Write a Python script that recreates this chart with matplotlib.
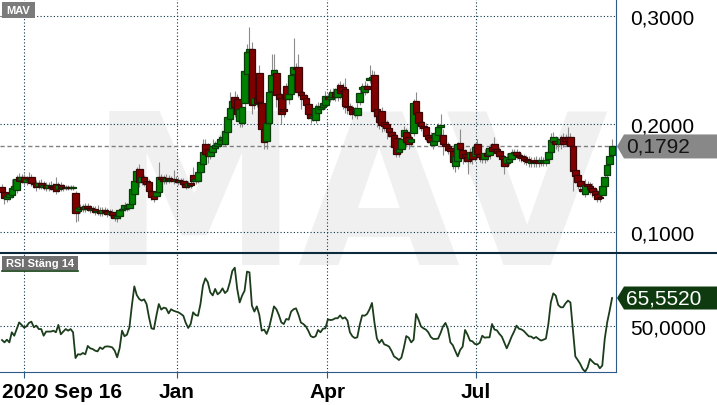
import numpy as np
import matplotlib
matplotlib.use("Agg")
import matplotlib.pyplot as plt
from matplotlib.patches import Polygon, Rectangle
from matplotlib.lines import Line2D
from matplotlib.transforms import IdentityTransform
from matplotlib.ticker import FuncFormatter

# ---------------- data (daily, from 2020 Sep 16), prices in units of 0.0001 ----------------
opens = [
    1416,1370,1305,1323,1342,1397,1388,1509,1481,1509, 1462,1481,1509,1453,1453,1425,1453,1416,1435,1407,
    1425,1416,1444,1397,1435,1407,1416,1407,1416,1407, 1361,1194,1212,1231,1212,1240,1222,1203,1212,1185,
    1194,1175,1203,1194,1166,1185,1157,1129,1148,1203, 1212,1222,1222,1259,1351,1472,1583,1462,1509,1472,
    1462,1379,1333,1333,1370,1509,1490,1472,1500,1481, 1490,1472,1481,1462,1472,1444,1425,1453,1527,1472,
    1472,1555,1629,1814,1768,1703,1740,1777,1796,1814, 1851,1814,1925,2046,2148,2250,2231,2027,2009,2194,
    2462,2666,2694,2185,2240,2472,2194,1944,1842,2009, 2305,2462,2472,2277,2240,2138,2351,2231,2277,2462,
    2518,2527,2296,2268,2240,2185,2092,2055,2037,2101, 2138,2157,2175,2250,2231,2250,2296,2250,2361,2342,
    2324,2166,2157,2138,2120,2083,2203,2324,2296,2351, 2407,2416,2453,2138,2074,2120,2018,2000,1962,1925,
    1898,1870,1740,1768,1888,1925,1879,1833,1916,2212, 2111,2018,1981,1972,1898,1879,1805,1842,1898,1972,
    1898,1814,1796,1777,1750,1611,1657,1824,1759,1722, 1694,1675,1740,1703,1814,1722,1694,1675,1731,1712,
    1787,1814,1768,1750,1703,1675,1638,1648,1675,1731, 1740,1712,1703,1694,1675,1666,1638,1657,1666,1657,
    1648,1648,1638,1675,1740,1833,1842,1824,1814,1879, 1870,1879,1879,1796,1574,1527,1472,1397,1351,1444,
    1425,1407,1379,1351,1323,1342,1425,1527,1629,1712,
]
closes = [
    1370,1314,1333,1351,1407,1425,1490,1472,1509,1462, 1490,1490,1453,1444,1416,1453,1425,1435,1407,1435,
    1416,1397,1379,1435,1407,1416,1407,1416,1407,1416, 1175,1222,1231,1212,1240,1222,1203,1212,1185,1194,
    1175,1203,1185,1166,1185,1157,1129,1148,1203,1212, 1249,1240,1259,1397,1472,1564,1462,1509,1462,1444,
    1379,1323,1305,1370,1509,1490,1472,1500,1481,1490, 1472,1481,1462,1472,1444,1416,1453,1435,1472,1490,
    1555,1648,1740,1722,1703,1750,1796,1805,1824,1861, 1879,1935,2064,2148,2212,2157,2092,2138,2157,2490,
    2666,2694,2175,2240,2194,2203,1953,1833,2009,2296, 2453,2500,2268,2231,2092,2120,2231,2277,2453,2527,
    2509,2296,2268,2231,2175,2092,2055,2074,2148,2166, 2157,2194,2259,2231,2250,2296,2250,2324,2287,2305,
    2166,2157,2129,2092,2101,2148,2287,2342,2351,2324, 2425,2435,2120,2074,2018,1990,1981,1962,1925,1888,
    1787,1722,1768,1861,1944,1833,1814,1861,2194,2092, 2009,1981,1962,1888,1861,1833,1842,1916,1972,1990,
    1814,1796,1759,1750,1648,1703,1814,1768,1685,1685, 1657,1740,1675,1787,1722,1694,1675,1731,1703,1777,
    1750,1768,1731,1703,1675,1611,1694,1675,1731,1740, 1712,1694,1685,1666,1657,1648,1657,1648,1648,1638,
    1666,1657,1666,1740,1851,1879,1814,1842,1861,1814, 1842,1861,1796,1564,1518,1462,1425,1379,1435,1425,
    1397,1370,1342,1305,1314,1425,1509,1620,1703,1792,
]
highs = [
    1444,1397,1351,1379,1490,1462,1527,1546,1537,1537, 1518,1555,1537,1481,1481,1481,1490,1472,1462,1462,
    1472,1453,1509,1462,1462,1444,1435,1435,1435,1435, 1379,1240,1259,1259,1268,1268,1249,1240,1240,1249,
    1231,1231,1231,1222,1212,1212,1185,1175,1222,1240, 1277,1268,1286,1435,1509,1601,1629,1537,1527,1500,
    1490,1407,1361,1416,1648,1537,1527,1537,1527,1518, 1574,1518,1509,1500,1500,1481,1472,1481,1601,1518,
    1583,1675,1861,1861,1824,1824,1861,1842,1861,1898, 1916,1972,2101,2296,2250,2305,2277,2175,2194,2527,
    2741,2898,2759,2277,2277,2546,2231,1972,2046,2342, 2648,2648,2509,2324,2287,2185,2379,2324,2490,2796,
    2564,2648,2342,2305,2277,2231,2138,2111,2185,2203, 2194,2231,2305,2287,2324,2333,2333,2379,2398,2379,
    2425,2268,2194,2175,2157,2194,2324,2379,2398,2379, 2546,2500,2490,2185,2120,2157,2055,2037,2000,1962,
    1935,1907,1814,1898,1981,1962,1925,1898,2231,2296, 2157,2064,2027,2009,1944,1925,1879,1953,2009,2092,
    1953,1861,1833,1814,1787,1712,1833,1953,1805,1768, 1731,1777,1777,1824,1861,1768,1731,1768,1768,1814,
    1824,1879,1805,1787,1740,1712,1731,1712,1768,1768, 1768,1750,1731,1722,1712,1703,1694,1694,1703,1694,
    1703,1694,1703,1777,1916,1925,1888,1879,1898,1916, 1907,1972,1916,1833,1611,1564,1509,1462,1490,1472,
    1462,1453,1416,1397,1361,1462,1546,1657,1740,1861,
]
lows = [
    1333,1259,1277,1296,1314,1370,1361,1444,1453,1435, 1435,1453,1425,1407,1379,1397,1397,1388,1379,1379,
    1388,1370,1351,1370,1379,1379,1388,1388,1388,1388, 1092,1101,1175,1185,1185,1194,1175,1175,1157,1157,
    1148,1148,1157,1138,1138,1129,1101,1092,1120,1175, 1194,1194,1203,1231,1305,1435,1416,1435,1425,1416,
    1351,1296,1277,1314,1361,1462,1444,1444,1453,1462, 1444,1453,1435,1435,1416,1397,1407,1407,1444,1444,
    1453,1527,1601,1648,1638,1675,1703,1750,1768,1787, 1824,1796,1898,2018,2120,2064,2046,1972,1972,2157,
    2416,2620,2092,2138,2157,2138,1898,1768,1768,1981, 2277,2435,2157,2185,2000,2064,2138,2185,2250,2435,
    2472,2250,2138,2194,2138,2046,2009,2027,2009,2074, 2111,2129,2138,2194,2203,2222,2212,2212,2231,2138,
    2101,2092,2083,2046,2064,2046,2175,2296,2268,2287, 2379,2379,2064,1972,1953,1925,1935,1861,1879,1842,
    1750,1694,1694,1731,1861,1787,1768,1796,1888,2046, 1953,1935,1907,1842,1824,1796,1768,1805,1861,1944,
    1712,1750,1722,1694,1583,1555,1583,1722,1629,1648, 1537,1638,1629,1657,1675,1648,1638,1638,1657,1675,
    1712,1731,1694,1675,1629,1537,1601,1620,1648,1675, 1675,1657,1648,1629,1620,1601,1601,1601,1601,1601,
    1611,1611,1611,1638,1712,1805,1768,1750,1768,1787, 1796,1814,1750,1379,1453,1397,1370,1342,1323,1379,
    1351,1323,1305,1277,1277,1314,1397,1490,1601,1629,
]
rsi14 = [
    42.2,40.9,42.4,40.9,46.5,44.6,48.3,52.0,50.6,49.1, 49.8,51.7,52.4,49.3,50.2,48.3,48.3,44.6,46.9,46.9,
    46.9,47.4,46.5,50.6,45.4,46.9,48.3,47.4,48.3,46.5, 32.2,34.3,34.1,35.0,34.3,38.9,37.6,37.2,36.3,35.9,
    38.1,37.2,38.5,38.7,38.5,38.1,36.3,32.6,37.6,47.4, 44.3,45.2,49.3,61.3,72.0,67.2,65.0,64.1,64.8,62.2,
    54.8,48.7,48.3,55.7,62.2,59.1,60.2,59.8,57.0,59.3, 58.5,58.0,57.6,56.7,55.7,51.7,48.9,51.1,57.6,56.1,
    55.7,62.2,72.4,76.5,74.3,68.7,67.0,70.6,67.6,68.7, 70.9,68.3,69.6,74.3,80.6,82.4,70.6,63.1,66.9,69.6,
    80.2,79.8,61.3,58.0,60.9,56.3,47.4,48.0,45.6,49.1, 54.8,60.9,59.3,56.1,52.0,51.1,53.9,53.5,58.0,59.3,
    59.8,56.3,51.9,51.1,49.8,47.4,44.4,43.7,44.3,47.8, 46.5,48.5,48.7,53.7,53.3,53.5,54.3,54.3,55.9,54.1,
    54.8,53.0,46.5,44.3,43.3,43.7,50.6,55.9,55.7,56.7, 59.3,62.8,52.0,43.1,40.6,42.4,39.8,39.3,38.5,36.1,
    33.1,32.2,31.1,32.4,37.8,44.4,43.5,40.9,42.4,56.7, 53.5,49.8,48.7,48.0,46.5,43.9,42.8,42.8,43.0,46.1,
    49.8,51.7,48.3,40.9,39.3,36.1,33.1,36.7,38.5,47.8, 45.2,41.9,41.5,40.0,39.8,40.7,44.6,43.5,43.7,43.7,
    51.1,48.0,47.6,45.6,44.1,40.9,37.6,40.7,44.1,46.9, 50.2,48.5,48.1,47.2,45.7,44.3,44.1,43.1,43.9,42.8,
    41.9,42.4,43.0,51.1,63.1,68.1,66.9,61.7,60.4,60.4, 62.6,64.1,63.1,48.3,33.1,31.1,28.9,26.1,24.6,27.0,
    31.7,30.2,28.9,28.7,26.5,28.0,42.8,52.0,58.5,65.552,
]
price_scale = 10000.0
price_ticks = [0.1, 0.2, 0.3]
rsi_ticks = [50]
date_tick_pos = [9, 71.4, 132.7, 193.5]      # trading-day index of quarter starts
date_tick_labels = ["", "Jan", "Apr", "Jul"]
start_label = "2020 Sep 16"
ticker = "MAV"
rsi_label = "RSI Stäng 14"

# ---------------- figure ----------------
W, H = 717, 406
plt.rcParams['font.family'] = ['Liberation Sans', 'DejaVu Sans']
fig = plt.figure(figsize=(W / 100, H / 100), dpi=100)
fig.patch.set_facecolor('white')

def fx(px):
    return px / W

def fy(py):
    return 1 - py / H

SPLIT, BOTTOM, RIGHT = 254, 373, 616
axp = fig.add_axes([0, fy(SPLIT), fx(RIGHT), SPLIT / H])
axr = fig.add_axes([0, fy(BOTTOM), fx(RIGHT), (BOTTOM - SPLIT) / H])
for a in (axp, axr):
    a.set_facecolor('none')

# watermark
fig.text(fx(349), fy(265), ticker, fontsize=151, fontweight='bold', color='#f0f0f0',
         family='DejaVu Sans', ha='center', va='baseline', zorder=-5)

o = np.array(opens) / price_scale
c = np.array(closes) / price_scale
h = np.array(highs) / price_scale
l = np.array(lows) / price_scale
idx = np.arange(len(c))
up = c >= o
last_price = c[-1]
last_rsi = rsi14[-1]

XL = (-0.82, 250.6)
GRID = '#0b3347'
SPINE = '#2d5b88'

# price panel
for v in price_ticks:
    axp.axhline(v, color=GRID, lw=0.8, ls=(0, (1, 2)), zorder=0.5)
for t in date_tick_pos:
    axp.axvline(t, color=GRID, lw=0.8, ls=(0, (1, 2)), zorder=0.5)
axp.axhline(last_price, color='#808080', lw=1.0, ls=(0, (3, 2)), zorder=0.6)
axp.vlines(idx, l, h, color='#8c8c8c', lw=0.8, zorder=1)
body_bottom = np.minimum(o, c)
body_h = np.maximum(np.abs(c - o), 0.0004)
axp.bar(idx, body_h, bottom=body_bottom, width=2.7,
        color=np.where(up, '#008000', '#800000'),
        edgecolor=np.where(up, '#0b3b0b', '#3b0505'), linewidth=0.9, zorder=2)
axp.set_xlim(*XL)
axp.set_ylim(0.08056, 0.3157)
fmt = FuncFormatter(lambda v, _: f"{v:.4f}".replace('.', ','))
axp.yaxis.tick_right()
axp.set_yticks(price_ticks)
axp.yaxis.set_major_formatter(fmt)
axp.tick_params(axis='y', length=0, pad=10, labelsize=15, labelcolor='black')
axp.tick_params(axis='x', bottom=False, labelbottom=False)
for s in ('left', 'top', 'bottom'):
    axp.spines[s].set_visible(False)
axp.spines['right'].set_color(SPINE)
axp.spines['right'].set_linewidth(0.8)

# RSI panel
axr.axhline(50, color=GRID, lw=0.8, ls=(0, (1, 2)), zorder=0.5)
for t in date_tick_pos:
    axr.axvline(t, color=GRID, lw=0.8, ls=(0, (1, 2)), zorder=0.5)
axr.plot(idx, rsi14, color='#1c3d1c', lw=1.3, zorder=2)
axr.set_xlim(*XL)
axr.set_ylim(24.44, 90.56)
axr.yaxis.tick_right()
axr.set_yticks(rsi_ticks)
axr.yaxis.set_major_formatter(fmt)
axr.tick_params(axis='y', length=0, pad=10, labelsize=15, labelcolor='black')
axr.set_xticks(date_tick_pos)
axr.set_xticklabels(date_tick_labels, fontweight='bold')
axr.tick_params(axis='x', length=4.3, width=0.8, color=SPINE, pad=3, labelsize=15)
for s in ('left', 'top'):
    axr.spines[s].set_visible(False)
for s in ('right', 'bottom'):
    axr.spines[s].set_color(SPINE)
    axr.spines[s].set_linewidth(0.8)

fig.text(fx(2), fy(398), start_label, fontsize=15, fontweight='bold', ha='left', va='baseline')

# separator line between panels
fig.add_artist(Line2D([0, 1], [fy(SPLIT), fy(SPLIT)], transform=fig.transFigure,
                      color='#0d2a3a', lw=1.5, zorder=5))

# value boxes on the right
def value_box(ax, val, text, face, tcolor, half):
    yd = ax.transData.transform((0, val))[1]
    verts = [(617, yd), (624, yd + half), (W, yd + half), (W, yd - half), (624, yd - half)]
    fig.add_artist(Polygon(verts, closed=True, transform=IdentityTransform(),
                           facecolor=face, edgecolor='none', zorder=6))
    fig.text(fx(626), yd / H, text, fontsize=15, color=tcolor, ha='left', va='center', zorder=7)

value_box(axp, last_price, fmt(last_price, None), '#888888', '#141414', 12)
value_box(axr, last_rsi, fmt(last_rsi, None), '#0f3a0f', 'white', 11.5)

# top-left labels
fig.add_artist(Rectangle((fx(2), fy(19)), fx(33), 16 / H, transform=fig.transFigure,
                         facecolor='#7b7b7b', edgecolor='none', zorder=6))
fig.text(fx(18.5), fy(11), ticker, fontsize=8, fontweight='bold', color='white',
         ha='center', va='center', zorder=7)
fig.add_artist(Rectangle((fx(2), fy(271)), fx(76), 14 / H, transform=fig.transFigure,
                         facecolor='#6f6f6f', edgecolor='none', zorder=6))
fig.add_artist(Line2D([fx(2), fx(78)], [fy(272), fy(272)], transform=fig.transFigure,
                      color='#0f3a0f', lw=1.2, zorder=6))
fig.text(fx(40), fy(264), rsi_label, fontsize=8, fontweight='bold', color='white',
         ha='center', va='center', zorder=7)

fig.savefig('out.png', dpi=100, facecolor='white')
